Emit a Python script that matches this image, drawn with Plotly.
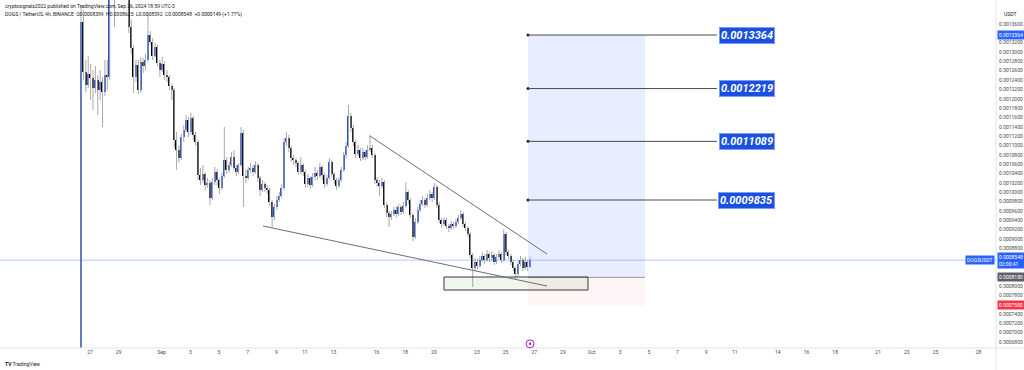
import pandas as pd
import plotly.graph_objects as go

# ---------------- data (DOGS/USDT, 4h, Binance) ----------------
first_bar = "2024-08-26 09:00"

open_ = [
    0.0005500, 0.0013642, 0.0012573, 0.0012295, 0.0012530, 0.0012445, 0.0012231, 0.0012402, 0.0012188, 0.0012359,
    0.0012145, 0.0012509, 0.0012466, 0.0014541, 0.0014969, 0.0014700, 0.0015610, 0.0015100, 0.0015900, 0.0015396,
    0.0014800, 0.0013535, 0.0013086, 0.0012466, 0.0012723, 0.0012188, 0.0012787, 0.0012701, 0.0012830, 0.0013364,
    0.0013215, 0.0012915, 0.0013108, 0.0012765, 0.0012616, 0.0012744, 0.0012509, 0.0012466, 0.0012273, 0.0012188,
    0.0011118, 0.0010905, 0.0010733, 0.0011183, 0.0011332, 0.0011546, 0.0011290, 0.0011589, 0.0011225, 0.0011076,
    0.0010370, 0.0010263, 0.0010391, 0.0010156, 0.0010199, 0.0009878, 0.0010220, 0.0010434, 0.0010263, 0.0010092,
    0.0010348, 0.0010689, 0.0010477, 0.0010584, 0.0010755, 0.0010520, 0.0010434, 0.0010584, 0.0011268, 0.0010348,
    0.0010306, 0.0010477, 0.0010520, 0.0010434, 0.0010584, 0.0010306, 0.0010049, 0.0010177, 0.0010092, 0.0010049,
    0.0009792, 0.0009471, 0.0009685, 0.0009835, 0.0009920, 0.0010092, 0.0011076, 0.0011161, 0.0010947, 0.0010733,
    0.0010689, 0.0010626, 0.0010434, 0.0010584, 0.0010434, 0.0010177, 0.0010306, 0.0010156, 0.0010327, 0.0010413,
    0.0010348, 0.0010541, 0.0010370, 0.0010177, 0.0010306, 0.0010648, 0.0010391, 0.0010263, 0.0010134, 0.0010263,
    0.0010477, 0.0010798, 0.0010990, 0.0011632, 0.0011375, 0.0011076, 0.0010819, 0.0010905, 0.0010733, 0.0010862,
    0.0010755, 0.0010905, 0.0010947, 0.0010798, 0.0010263, 0.0010199, 0.0010134, 0.0010220, 0.0009728, 0.0009557,
    0.0009471, 0.0009536, 0.0009621, 0.0009536, 0.0009685, 0.0009578, 0.0009707, 0.0010006, 0.0009835, 0.0009514,
    0.0009044, 0.0009364, 0.0009621, 0.0009749, 0.0009835, 0.0009728, 0.0009878, 0.0009963, 0.0009878, 0.0010113,
    0.0009728, 0.0009407, 0.0009322, 0.0009407, 0.0009279, 0.0009236, 0.0009322, 0.0009279, 0.0009364, 0.0009450,
    0.0009536, 0.0009322, 0.0009236, 0.0009108, 0.0008659, 0.0008380, 0.0008509, 0.0008423, 0.0008552, 0.0008637,
    0.0008552, 0.0008680, 0.0008594, 0.0008659, 0.0008509, 0.0008616, 0.0008680, 0.0008552, 0.0009108, 0.0008723,
    0.0008637, 0.0008509, 0.0008380, 0.0008252, 0.0008466, 0.0008552, 0.0008380, 0.0008509, 0.0008399,
]

high = [
    0.0014000, 0.0013899, 0.0012830, 0.0012915, 0.0012744, 0.0012616, 0.0012701, 0.0012509, 0.0012616, 0.0012466,
    0.0012830, 0.0012830, 0.0014969, 0.0015396, 0.0015200, 0.0016038, 0.0016252, 0.0016600, 0.0016100, 0.0015600,
    0.0014900, 0.0013700, 0.0013150, 0.0012830, 0.0012830, 0.0012900, 0.0012872, 0.0012960, 0.0013835, 0.0013450,
    0.0013300, 0.0013193, 0.0013150, 0.0012830, 0.0012900, 0.0012800, 0.0012616, 0.0012509, 0.0012330, 0.0012230,
    0.0011290, 0.0011000, 0.0011250, 0.0011439, 0.0011653, 0.0011610, 0.0011700, 0.0011630, 0.0011290, 0.0011118,
    0.0010520, 0.0010584, 0.0010434, 0.0010306, 0.0010263, 0.0010306, 0.0010541, 0.0010500, 0.0010306, 0.0010413,
    0.0011397, 0.0010755, 0.0010650, 0.0010862, 0.0010905, 0.0010584, 0.0010626, 0.0011397, 0.0011332, 0.0010477,
    0.0010541, 0.0010626, 0.0010584, 0.0010669, 0.0010626, 0.0010348, 0.0010263, 0.0010220, 0.0010156, 0.0010092,
    0.0009835, 0.0009749, 0.0009920, 0.0010006, 0.0010177, 0.0011161, 0.0011290, 0.0011225, 0.0010990, 0.0010798,
    0.0010733, 0.0010669, 0.0010755, 0.0010626, 0.0010477, 0.0010391, 0.0010348, 0.0010413, 0.0010541, 0.0010477,
    0.0010626, 0.0010584, 0.0010413, 0.0010370, 0.0010733, 0.0010689, 0.0010434, 0.0010306, 0.0010327, 0.0010541,
    0.0010862, 0.0011076, 0.0011867, 0.0011700, 0.0011439, 0.0011118, 0.0011011, 0.0010947, 0.0010947, 0.0010905,
    0.0011011, 0.0011225, 0.0011011, 0.0010840, 0.0010327, 0.0010263, 0.0010306, 0.0010263, 0.0009792, 0.0009600,
    0.0009600, 0.0009685, 0.0009707, 0.0009749, 0.0009728, 0.0009792, 0.0010220, 0.0010049, 0.0009878, 0.0009557,
    0.0009450, 0.0009685, 0.0009835, 0.0009920, 0.0009878, 0.0009963, 0.0010049, 0.0010006, 0.0010199, 0.0010156,
    0.0009792, 0.0009450, 0.0009471, 0.0009450, 0.0009322, 0.0009386, 0.0009364, 0.0009429, 0.0009514, 0.0009621,
    0.0009578, 0.0009364, 0.0009279, 0.0009150, 0.0008702, 0.0008594, 0.0008573, 0.0008637, 0.0008723, 0.0008680,
    0.0008766, 0.0008723, 0.0008745, 0.0008702, 0.0008680, 0.0008766, 0.0008723, 0.0009215, 0.0009150, 0.0008766,
    0.0008680, 0.0008552, 0.0008423, 0.0008530, 0.0008637, 0.0008594, 0.0008616, 0.0008552, 0.0008625,
]

low = [
    0.0005000, 0.0012402, 0.0012145, 0.0012231, 0.0011974, 0.0011760, 0.0012124, 0.0011653, 0.0011974, 0.0011397,
    0.0012060, 0.0012188, 0.0012402, 0.0014220, 0.0013535, 0.0014600, 0.0014900, 0.0015000, 0.0015200, 0.0014500,
    0.0013407, 0.0012960, 0.0012124, 0.0012360, 0.0012100, 0.0012124, 0.0012550, 0.0012600, 0.0012787, 0.0013150,
    0.0012830, 0.0012872, 0.0012700, 0.0012466, 0.0012573, 0.0012402, 0.0012360, 0.0012188, 0.0011974, 0.0010947,
    0.0010477, 0.0010626, 0.0010689, 0.0011076, 0.0011290, 0.0011183, 0.0011225, 0.0011118, 0.0010990, 0.0010263,
    0.0010156, 0.0010200, 0.0010049, 0.0010092, 0.0009728, 0.0009835, 0.0010156, 0.0010134, 0.0009963, 0.0010049,
    0.0010306, 0.0010391, 0.0010413, 0.0010541, 0.0010477, 0.0010350, 0.0010391, 0.0010541, 0.0009685, 0.0010200,
    0.0010263, 0.0010413, 0.0010348, 0.0010391, 0.0010220, 0.0009920, 0.0010006, 0.0010006, 0.0009963, 0.0009707,
    0.0009257, 0.0009407, 0.0009621, 0.0009792, 0.0009878, 0.0010049, 0.0010990, 0.0010862, 0.0010650, 0.0010584,
    0.0010541, 0.0010370, 0.0010391, 0.0010348, 0.0010092, 0.0010113, 0.0010070, 0.0010113, 0.0010263, 0.0010263,
    0.0010306, 0.0010263, 0.0010092, 0.0010134, 0.0010263, 0.0010327, 0.0010177, 0.0010049, 0.0010092, 0.0010220,
    0.0010434, 0.0010733, 0.0010947, 0.0011290, 0.0010990, 0.0010733, 0.0010776, 0.0010669, 0.0010689, 0.0010689,
    0.0010712, 0.0010862, 0.0010733, 0.0010177, 0.0010113, 0.0009920, 0.0010092, 0.0009664, 0.0009471, 0.0009257,
    0.0009407, 0.0009493, 0.0009450, 0.0009493, 0.0009514, 0.0009536, 0.0009664, 0.0009749, 0.0009450, 0.0008958,
    0.0009001, 0.0009322, 0.0009578, 0.0009707, 0.0009664, 0.0009685, 0.0009835, 0.0009792, 0.0009835, 0.0009664,
    0.0009343, 0.0009236, 0.0009279, 0.0009215, 0.0009150, 0.0009193, 0.0009215, 0.0009236, 0.0009322, 0.0009407,
    0.0009257, 0.0009172, 0.0009044, 0.0008594, 0.0007974, 0.0008316, 0.0008359, 0.0008380, 0.0008509, 0.0008466,
    0.0008509, 0.0008509, 0.0008530, 0.0008445, 0.0008466, 0.0008573, 0.0008488, 0.0008509, 0.0008659, 0.0008573,
    0.0008445, 0.0008316, 0.0008124, 0.0008209, 0.0008423, 0.0008316, 0.0008338, 0.0008316, 0.0008392,
]

close_ = [
    0.0013642, 0.0012573, 0.0012295, 0.0012530, 0.0012445, 0.0012231, 0.0012402, 0.0012188, 0.0012359, 0.0012145,
    0.0012509, 0.0012466, 0.0014541, 0.0014969, 0.0014700, 0.0015610, 0.0015100, 0.0015900, 0.0015396, 0.0014800,
    0.0013535, 0.0013086, 0.0012466, 0.0012723, 0.0012188, 0.0012787, 0.0012701, 0.0012830, 0.0013364, 0.0013215,
    0.0012915, 0.0013108, 0.0012765, 0.0012616, 0.0012744, 0.0012509, 0.0012466, 0.0012273, 0.0012188, 0.0011118,
    0.0010905, 0.0010733, 0.0011183, 0.0011332, 0.0011546, 0.0011290, 0.0011589, 0.0011225, 0.0011076, 0.0010370,
    0.0010263, 0.0010391, 0.0010156, 0.0010199, 0.0009878, 0.0010220, 0.0010434, 0.0010263, 0.0010092, 0.0010348,
    0.0010689, 0.0010477, 0.0010584, 0.0010755, 0.0010520, 0.0010434, 0.0010584, 0.0011268, 0.0010348, 0.0010306,
    0.0010477, 0.0010520, 0.0010434, 0.0010584, 0.0010306, 0.0010049, 0.0010177, 0.0010092, 0.0010049, 0.0009792,
    0.0009471, 0.0009685, 0.0009835, 0.0009920, 0.0010092, 0.0011076, 0.0011161, 0.0010947, 0.0010733, 0.0010689,
    0.0010626, 0.0010434, 0.0010584, 0.0010434, 0.0010177, 0.0010306, 0.0010156, 0.0010327, 0.0010413, 0.0010348,
    0.0010541, 0.0010370, 0.0010177, 0.0010306, 0.0010648, 0.0010391, 0.0010263, 0.0010134, 0.0010263, 0.0010477,
    0.0010798, 0.0010990, 0.0011632, 0.0011375, 0.0011076, 0.0010819, 0.0010905, 0.0010733, 0.0010862, 0.0010755,
    0.0010905, 0.0010947, 0.0010798, 0.0010263, 0.0010199, 0.0010134, 0.0010220, 0.0009728, 0.0009557, 0.0009471,
    0.0009536, 0.0009621, 0.0009536, 0.0009685, 0.0009578, 0.0009707, 0.0010006, 0.0009835, 0.0009514, 0.0009044,
    0.0009364, 0.0009621, 0.0009749, 0.0009835, 0.0009728, 0.0009878, 0.0009963, 0.0009878, 0.0010113, 0.0009728,
    0.0009407, 0.0009322, 0.0009407, 0.0009279, 0.0009236, 0.0009322, 0.0009279, 0.0009364, 0.0009450, 0.0009536,
    0.0009322, 0.0009236, 0.0009108, 0.0008659, 0.0008380, 0.0008509, 0.0008423, 0.0008552, 0.0008637, 0.0008552,
    0.0008680, 0.0008594, 0.0008659, 0.0008509, 0.0008616, 0.0008680, 0.0008552, 0.0009108, 0.0008723, 0.0008637,
    0.0008509, 0.0008380, 0.0008252, 0.0008466, 0.0008552, 0.0008380, 0.0008509, 0.0008399, 0.0008548,
]

# x-axis tick labels
tick_dates = ["2024-08-27", "2024-08-29", "2024-09-01", "2024-09-03", "2024-09-05", "2024-09-07",
              "2024-09-09", "2024-09-11", "2024-09-13", "2024-09-16", "2024-09-18", "2024-09-20",
              "2024-09-23", "2024-09-25", "2024-09-27", "2024-09-29", "2024-10-01", "2024-10-03",
              "2024-10-05", "2024-10-07", "2024-10-09", "2024-10-11", "2024-10-14", "2024-10-16",
              "2024-10-18", "2024-10-21", "2024-10-23", "2024-10-25", "2024-10-28"]
tick_text = ["27", "29", "Sep", "3", "5", "7", "9", "11", "13", "16", "18", "20", "23", "25", "27",
             "29", "Oct", "3", "5", "7", "9", "11", "14", "16", "18", "21", "23", "25", "28"]

# price-axis tick values (those hidden under the highlighted price labels are left out)
price_ticks = [0.00068, 0.00070, 0.00072, 0.00074, 0.00078, 0.00080,
               0.00088, 0.00090, 0.00092, 0.00094, 0.00096, 0.00098, 0.00100, 0.00102,
               0.00104, 0.00106, 0.00108, 0.00110, 0.00112, 0.00114, 0.00116, 0.00118, 0.00120,
               0.00122, 0.00124, 0.00126, 0.00128, 0.00130, 0.00132, 0.00136]

# drawings
targets = [0.0013364, 0.0012219, 0.0011089, 0.0009835]
entry_price = 0.0008180
stop_price = 0.0007580
position_start, position_end = "2024-09-26 13:35", "2024-10-04 17:30"
target_line_end = "2024-10-09 18:00"
target_label_x = "2024-10-11 20:10"
upper_trend_x = ["2024-09-15 13:00", "2024-09-27 21:20"]
upper_trend_y = [0.0011204, 0.0008680]
lower_trend_x = ["2024-09-08 01:40", "2024-09-27 21:20"]
lower_trend_y = [0.0009279, 0.0007995]
box_x = ["2024-09-20 16:50", "2024-09-30 18:00"]
box_y = [0.0007910, 0.0008188]

x_range = ["2024-08-20 17:16", "2024-10-29 05:23"]
y_range = [0.00066693, 0.0014113]

# ---------------- figure ----------------
BLUE = "#2052e0"
BLACK = "#000000"
WICK = "#a9a9a9"
FONT = "Roboto"

times = pd.date_range(first_bar, periods=len(close_), freq="4h")

wick_x, wick_y = [], []
for t, lo, hi in zip(times, low, high):
    wick_x += [t, t, None]
    wick_y += [lo, hi, None]

fig = go.Figure()
fig.add_trace(go.Scatter(x=wick_x, y=wick_y, mode="lines",
                         line=dict(color=WICK, width=1), hoverinfo="skip", showlegend=False))
fig.add_trace(go.Bar(
    x=times,
    y=[abs(c - o) for o, c in zip(open_, close_)],
    base=[min(o, c) for o, c in zip(open_, close_)],
    width=4 * 3600 * 1000 * 0.62,
    marker=dict(color=[BLUE if c >= o else BLACK for o, c in zip(open_, close_)], line=dict(width=0)),
    showlegend=False,
))

shapes = []
# long-position tool zones
shapes.append(dict(type="rect", xref="x", yref="y", x0=position_start, x1=position_end,
                   y0=entry_price, y1=targets[0], fillcolor="rgba(41,98,255,0.11)",
                   line=dict(width=0), layer="below"))
shapes.append(dict(type="rect", xref="x", yref="y", x0=position_start, x1=position_end,
                   y0=stop_price, y1=entry_price, fillcolor="rgba(242,54,69,0.05)",
                   line=dict(width=0), layer="below"))
shapes.append(dict(type="line", xref="x", yref="y", x0=position_start, x1=position_end,
                   y0=entry_price, y1=entry_price, line=dict(color="#9598a1", width=1)))
# support box
shapes.append(dict(type="rect", xref="x", yref="y", x0=box_x[0], x1=box_x[1], y0=box_y[0], y1=box_y[1],
                   fillcolor="rgba(120,180,100,0.12)", line=dict(color="#3a3a3a", width=1)))
# trend lines
shapes.append(dict(type="line", xref="x", yref="y", x0=upper_trend_x[0], x1=upper_trend_x[1],
                   y0=upper_trend_y[0], y1=upper_trend_y[1], line=dict(color="#6a6d78", width=1)))
shapes.append(dict(type="line", xref="x", yref="y", x0=lower_trend_x[0], x1=lower_trend_x[1],
                   y0=lower_trend_y[0], y1=lower_trend_y[1], line=dict(color="#6a6d78", width=1)))
# target lines
for tp in targets:
    shapes.append(dict(type="line", xref="x", yref="y", x0=position_start, x1=target_line_end,
                       y0=tp, y1=tp, line=dict(color="#4a4a4a", width=1)))
# last price line
shapes.append(dict(type="line", xref="paper", yref="y", x0=0, x1=1, y0=close_[-1], y1=close_[-1],
                   line=dict(color="rgba(41,98,255,0.35)", width=1)))
# axis separator lines
shapes.append(dict(type="line", xref="paper", yref="paper", x0=0, x1=1.03, y0=0, y1=0,
                   line=dict(color="#e0e3eb", width=1)))
shapes.append(dict(type="line", xref="paper", yref="paper", x0=1, x1=1, y0=-0.065, y1=1,
                   line=dict(color="#e0e3eb", width=1)))
# event marker on time axis
shapes.append(dict(type="circle", xref="x", yref="paper", xsizemode="pixel", ysizemode="pixel",
                   xanchor=times[-1], yanchor=0.012, x0=-4, x1=4, y0=-4, y1=4,
                   line=dict(color="#9c27b0", width=1), fillcolor="white"))
shapes.append(dict(type="circle", xref="x", yref="paper", xsizemode="pixel", ysizemode="pixel",
                   xanchor=times[-1], yanchor=0.012, x0=-1.3, x1=1.3, y0=-1.3, y1=1.3,
                   line=dict(color="#9c27b0", width=0), fillcolor="#9c27b0"))

fig.add_trace(go.Scatter(x=[position_start] * len(targets), y=targets, mode="markers",
                         marker=dict(color="#222", size=3), hoverinfo="skip", showlegend=False))

annotations = []
for tp in targets:
    annotations.append(dict(x=target_label_x, y=tp, xref="x", yref="y", showarrow=False,
                            text=f"<b><i>{tp:.7f}</i></b>",
                            font=dict(family=FONT, size=11, color="white"),
                            bgcolor="#1b4fe0", bordercolor="#7f9cf5", borderwidth=1, borderpad=1))

def axis_label(price, text, bg, color="white"):
    return dict(x=1, y=price, xref="paper", yref="y", xanchor="left", yanchor="middle",
                xshift=1, showarrow=False, text=text, align="left",
                font=dict(family=FONT, size=5, color=color), bgcolor=bg, borderpad=1)

annotations.append(axis_label(targets[0], f"{targets[0]:.7f}", "#2962ff"))
annotations.append(axis_label(close_[-1], f"{close_[-1]:.7f}<br>02:00:41", "#2962ff"))
annotations.append(axis_label(entry_price, f"{entry_price:.7f}", "#5d606b"))
annotations.append(axis_label(stop_price, f"{stop_price:.7f}", "#f23645"))
annotations.append(dict(x=1, y=close_[-1], xref="paper", yref="y", xanchor="right", yanchor="middle",
                        xshift=-1, showarrow=False, text="DOGSUSDT",
                        font=dict(family=FONT, size=5, color="white"), bgcolor="#2962ff", borderpad=1))
annotations.append(dict(x=1, y=1, xref="paper", yref="paper", xanchor="left", yanchor="top",
                        xshift=6, yshift=-9, showarrow=False, text="USDT",
                        font=dict(family=FONT, size=5, color="#131722")))
annotations.append(dict(x=0, y=1, xref="paper", yref="paper", xanchor="left", yanchor="top",
                        xshift=3, yshift=-1, showarrow=False, align="left",
                        text="cryptosignals2022 published on TradingView.com, Sep 26, 2024 18:59 UTC-3",
                        font=dict(family=FONT, size=5, color="#131722")))
annotations.append(dict(x=0, y=1, xref="paper", yref="paper", xanchor="left", yanchor="top",
                        xshift=3, yshift=-9, showarrow=False, align="left",
                        text="DOGS / TetherUS, 4h, BINANCE  O0.0008399  H0.0008625  L0.0008392  C0.0008548  +0.0000149 (+1.77%)",
                        font=dict(family=FONT, size=5, color="#131722")))
annotations.append(dict(x=0, y=0, xref="paper", yref="paper", xanchor="left", yanchor="middle",
                        xshift=3, yshift=-16, showarrow=False,
                        text="<b>TV</b> TradingView", font=dict(family=FONT, size=5, color="#131722")))

fig.update_layout(
    width=1024, height=370,
    margin=dict(l=0, r=28, t=0, b=22, autoexpand=False),
    paper_bgcolor="white", plot_bgcolor="white",
    shapes=shapes, annotations=annotations,
    bargap=0, showlegend=False,
    xaxis=dict(type="date", range=x_range, tickvals=tick_dates, ticktext=tick_text,
               tickfont=dict(family=FONT, size=5, color="#4a4a4a"), showgrid=False,
               zeroline=False, showline=False, ticks="", fixedrange=True),
    yaxis=dict(side="right", range=y_range, tickvals=price_ticks, tickformat=".7f",
               tickfont=dict(family=FONT, size=5, color="#4a4a4a"), showgrid=False,
               zeroline=False, showline=False, ticks="", ticklabelstandoff=2),
)

fig.write_html("out.html", config={"displayModeBar": False},
               post_script="document.body.style.margin='0';document.body.style.overflow='hidden';")
